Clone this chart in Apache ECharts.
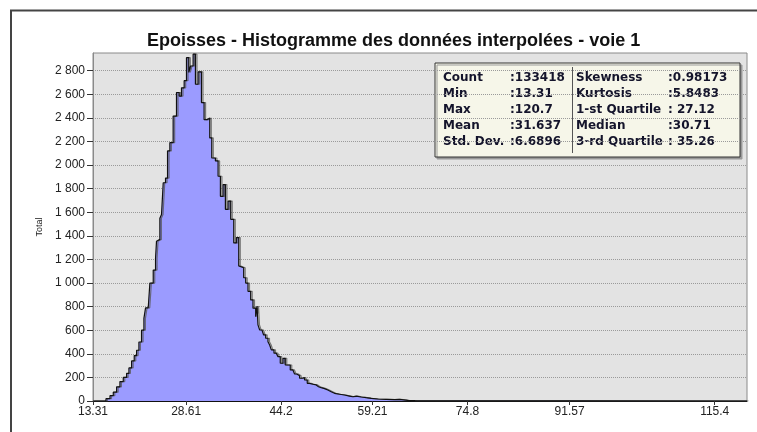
<!DOCTYPE html>
<html>
<head>
<meta charset="utf-8">
<script src="https://cdn.jsdelivr.net/npm/echarts@6.0.0/dist/echarts.min.js"></script>
<style>
  html, body { margin: 0; padding: 0; background: #fff; }
  #chart { width: 757px; height: 432px; }
</style>
</head>
<body>
<div id="chart"></div>
<script>
// left edge of each histogram step, and its count
var binStarts = [13.31, 15.44, 16.10, 16.64, 17.19, 17.73, 18.28, 18.83, 19.21, 19.65,
  20.08, 20.47, 20.85, 21.28, 21.67, 21.94, 22.38, 22.65, 23.20, 23.58,
  23.74, 24.02, 24.29, 24.56, 24.84, 25.22, 25.55, 25.93, 26.47, 27.02,
  27.46, 27.84, 28.28, 28.66, 29.04, 29.32, 29.75, 30.13, 30.57, 31.12,
  31.55, 32.05, 32.48, 32.81, 33.41, 33.85, 34.23, 34.67, 35.05, 35.49,
  35.92, 36.42, 36.85, 37.24, 37.56, 38.05, 38.38, 38.76, 39.20, 39.58,
  40.02, 40.24, 40.40, 40.68, 41.06, 41.33, 41.66, 42.04, 42.32, 42.59,
  43.03, 43.41, 43.68, 44.06, 44.50, 44.88, 45.70, 46.14, 46.41, 46.79,
  47.23, 47.61, 48.05, 48.49, 48.87, 49.42, 49.96, 50.34, 50.78, 51.33,
  51.87, 52.42, 52.97, 53.79, 54.60, 55.42, 55.97, 56.52, 57.34, 58.16,
  58.97, 60.07, 61.43, 62.80, 63.62, 64.98, 66.2, 120.7];
var counts = [0, 20, 45, 75, 120, 165, 200, 235, 280, 340,
  385, 430, 500, 600, 700, 790, 805, 1000, 1110, 1210,
  1355, 1370, 1550, 1580, 1850, 1890, 2120, 2190, 2415, 2615,
  2585, 2655, 2715, 2910, 2785, 2840, 2940, 2685, 2790, 2530,
  2385, 2400, 2230, 2060, 2035, 1905, 1735, 1835, 1625, 1695,
  1540, 1340, 1385, 1145, 1130, 1045, 1000, 930, 857, 787,
  715, 805, 645, 602, 588, 560, 532, 503, 475, 433,
  405, 390, 376, 320, 362, 305, 263, 249, 229, 215,
  193, 198, 178, 150, 142, 136, 121, 113, 105, 93,
  79, 65, 57, 51, 42, 36, 42, 34, 28, 23,
  17, 14, 11, 13, 6, 3, 0, 0];

var xTicks = [13.31, 28.61, 44.2, 59.21, 74.8, 91.57, 115.4];
var yTicks = [0, 200, 400, 600, 800, 1000, 1200, 1400, 1600, 1800, 2000, 2200, 2400, 2600, 2800];

var statLabelsLeft = ['Count', 'Min', 'Max', 'Mean', 'Std. Dev.'];
var statValuesLeft = [':133418', ':13.31', ':120.7', ':31.637', ':6.6896'];
var statLabelsRight = ['Skewness', 'Kurtosis', '1-st Quartile', 'Median', '3-rd Quartile'];
var statValuesRight = [':0.98173', ':5.8483', ': 27.12', ':30.71', ': 35.26'];

var histData = binStarts.map(function (x, i) { return [x, counts[i]]; });

function spaced(v) {
  return String(v).replace(/\B(?=(\d{3})+(?!\d))/g, ' ');
}

// stats box drawn as graphic text
var boxFont = 'bold 12px "DejaVu Sans"';
var boxColor = '#14142b';
var statsBox = [{
  type: 'rect',
  shape: { x: 435, y: 63, width: 305, height: 94 },
  style: { fill: '#f6f6e9', stroke: '#333', lineWidth: 1,
    shadowColor: '#999', shadowOffsetX: 2, shadowOffsetY: 2, shadowBlur: 0 }
}, {
  type: 'line',
  shape: { x1: 572.5, y1: 67, x2: 572.5, y2: 153 },
  style: { stroke: '#555', lineWidth: 1 }
}];
for (var i = 0; i < 5; i++) {
  var ty = 78 + i * 16;
  statsBox.push({ type: 'text', x: 443, y: ty, style: { text: statLabelsLeft[i], font: boxFont, fill: boxColor, verticalAlign: 'middle' } });
  statsBox.push({ type: 'text', x: 510, y: ty, style: { text: statValuesLeft[i], font: boxFont, fill: boxColor, verticalAlign: 'middle' } });
  statsBox.push({ type: 'text', x: 576, y: ty, style: { text: statLabelsRight[i], font: boxFont, fill: boxColor, verticalAlign: 'middle' } });
  statsBox.push({ type: 'text', x: 668, y: ty, style: { text: statValuesRight[i], font: boxFont, fill: boxColor, verticalAlign: 'middle' } });
}

var chart = echarts.init(document.getElementById('chart'), null, { renderer: 'canvas' });
chart.setOption({
  animation: false,
  backgroundColor: '#fff',
  textStyle: { fontFamily: '"Liberation Sans", Arial, sans-serif' },
  title: {
    text: 'Epoisses - Histogramme des données interpolées - voie 1',
    left: 142,
    top: 27,
    textStyle: { fontSize: 18, fontWeight: 'bold', color: '#111', fontFamily: '"Liberation Sans", Arial, sans-serif' }
  },
  grid: {
    left: 93, right: 10, top: 53, bottom: 31,
    show: true, backgroundColor: '#e3e3e3', borderColor: '#8a8a8a', borderWidth: 1
  },
  xAxis: {
    type: 'value',
    min: 13.31,
    max: 120.7,
    axisLine: { lineStyle: { color: '#111', width: 1 } },
    axisTick: { customValues: xTicks, length: 4, lineStyle: { color: '#333' } },
    axisLabel: { customValues: xTicks, color: '#222', fontSize: 12, margin: 5,
      formatter: function (v) { return String(v); } },
    splitLine: { show: false }
  },
  yAxis: {
    type: 'value',
    min: 0,
    max: 2950,
    interval: 200,
    name: 'Total',
    nameLocation: 'middle',
    nameGap: 47,
    nameTextStyle: { fontSize: 9, color: '#222' },
    axisLine: { show: true, lineStyle: { color: '#8a8a8a' } },
    axisTick: { customValues: yTicks, length: 6, lineStyle: { color: '#333' } },
    axisLabel: { customValues: yTicks, color: '#222', fontSize: 12, margin: 8, formatter: spaced },
    splitLine: { show: true, lineStyle: { type: 'dotted', color: '#9a9a9a' } }
  },
  series: [{
    type: 'line',
    step: 'end',
    data: histData,
    symbol: 'none',
    lineStyle: { color: '#111', width: 1.2, shadowColor: 'rgba(90,90,90,0.8)', shadowOffsetX: 1.5, shadowBlur: 0 },
    areaStyle: { color: '#9b9bff', opacity: 1 },
    z: 3
  }],
  graphic: [{
    type: 'rect',
    shape: { x: 11, y: 10.5, width: 820, height: 500 },
    style: { fill: null, stroke: '#444', lineWidth: 2 },
    silent: true
  }, {
    type: 'group',
    children: statsBox,
    z: 10
  }]
});
</script>
</body>
</html>
